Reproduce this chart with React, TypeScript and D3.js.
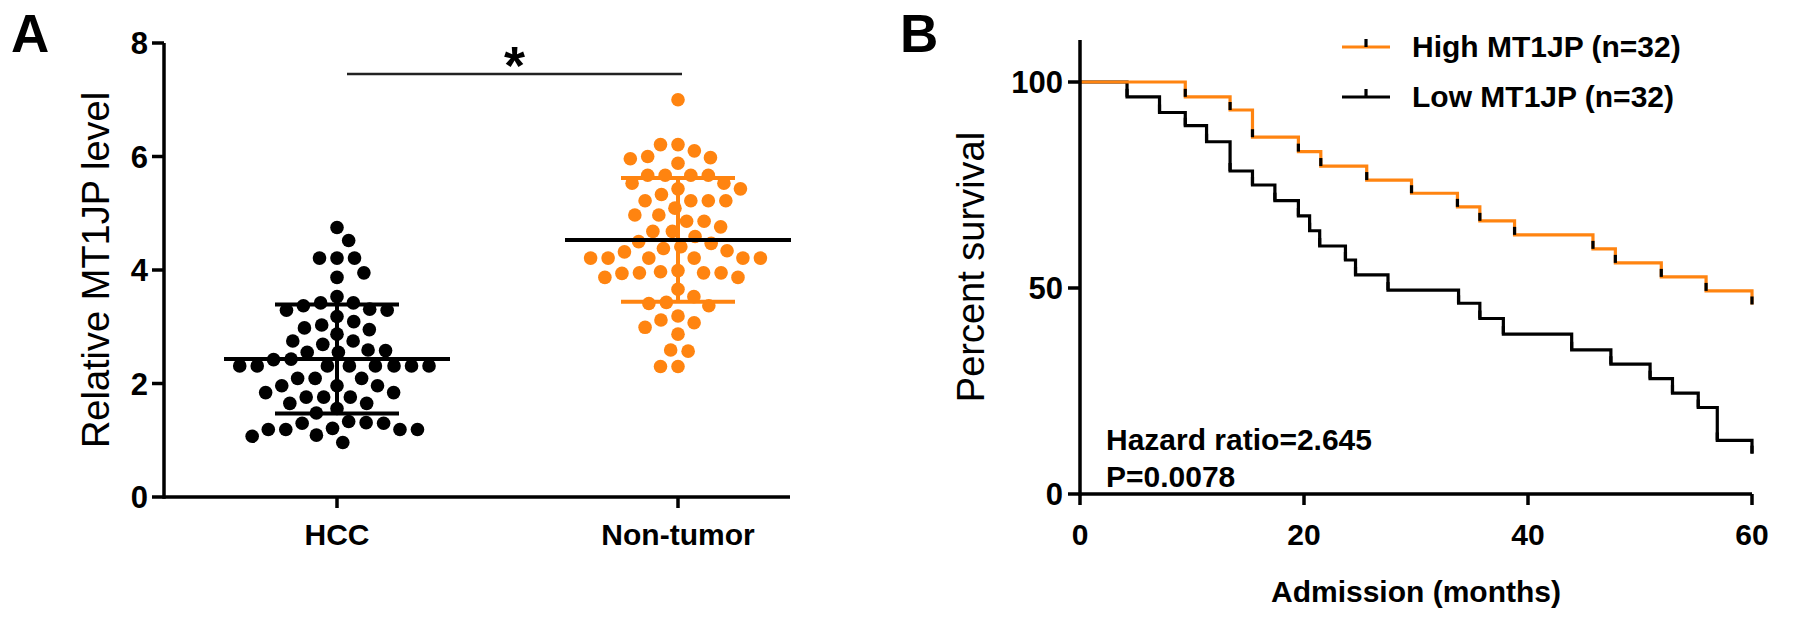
import React from "react";
import * as d3 from "d3";

// ---------- Panel A data ----------
const categories = ["HCC", "Non-tumor"];
const hccValues = [
  4.75, 4.52, 4.21, 4.21, 4.21, 3.87, 3.95, 3.53, 3.42, 3.37, 3.29, 3.29, 3.31, 3.42,
  3.09, 2.98, 2.87, 2.95, 3.03, 3.18, 2.75, 2.75, 2.58, 2.55, 2.55, 2.59, 2.69, 2.43, 2.42,
  2.31, 2.31, 2.31, 2.31, 2.31, 2.31, 2.31, 2.31, 2.09, 2.09, 2.09, 1.96, 1.96, 1.96,
  1.84, 1.84, 1.76, 1.76, 1.76, 1.65, 1.56, 1.65, 1.48,
  1.31, 1.30, 1.19, 1.19, 1.09, 0.96, 1.07, 1.19, 1.21, 1.19, 1.30, 1.33,
];
const nonTumorValues = [
  7.0, 6.21, 6.1, 6.21, 6.0, 5.96, 5.88, 5.98, 5.67, 5.67, 5.67, 5.67, 5.53, 5.53,
  5.43, 5.43, 5.33, 5.22, 5.22, 5.22, 5.22, 5.09, 4.97, 4.97, 4.86, 4.86, 4.76, 4.68,
  4.68, 4.59, 4.47, 4.5, 4.38, 4.34, 4.32, 4.41, 4.21, 4.21, 4.21, 4.21, 4.21, 4.21,
  3.99, 3.97, 3.95, 3.87, 3.87, 3.94, 3.95, 3.95, 3.66, 3.53, 3.41, 3.37, 3.43,
  3.12, 3.19, 2.99, 3.07, 2.87, 2.57, 2.59, 2.3, 2.3,
];
const groupMeans = [2.43, 4.53];
const groupSDs = [0.96, 1.09];
const yTicksA = [0, 2, 4, 6, 8];

// ---------- Panel B data ----------
const highTimes = [0, 9.4, 13.4, 15.4, 19.5, 21.5, 25.6, 29.6, 33.7, 35.7, 38.8, 45.8, 47.8, 51.9, 55.9, 60];
const highSurv = [100, 96.4, 93.2, 86.6, 83.1, 79.6, 76.2, 73.0, 69.7, 66.3, 62.9, 59.5, 56.1, 52.7, 49.3, 46.0];
const lowTimes = [0, 4.2, 7.1, 9.4, 11.3, 13.4, 15.4, 17.4, 19.5, 20.5, 21.4, 23.7, 24.6, 27.5, 33.8, 35.7, 37.8, 43.9, 47.4, 50.9, 52.9, 55.2, 56.9, 60];
const lowSurv = [100, 96.4, 92.6, 89.4, 85.5, 78.4, 75.0, 71.2, 67.5, 63.9, 60.2, 56.8, 53.2, 49.5, 46.3, 42.6, 38.8, 35.0, 31.5, 28.0, 24.5, 21.0, 13.0, 9.8];
const seriesNames = ["High MT1JP (n=32)", "Low MT1JP (n=32)"];
const xTicksB = [0, 20, 40, 60];
const yTicksB = [0, 50, 100];

const ORANGE = "#FF8410";
const FONT = "'Liberation Sans', Arial, Helvetica, sans-serif";

function beeswarm(values: number[], y: (v: number) => number, d: number): number[] {
  // place points from the highest value downwards, each as close to the centre as possible
  const idx = values.map((_, i) => i).sort((a, b) => values[b] - values[a]);
  const placed: { x: number; y: number }[] = [];
  const xs = new Array(values.length).fill(0);
  let flip = 1;
  for (const i of idx) {
    const yy = y(values[i]);
    const cands: number[] = [0];
    for (const p of placed) {
      const dy = Math.abs(p.y - yy);
      if (dy < d) {
        const dx = Math.sqrt(d * d - dy * dy);
        cands.push(p.x + dx, p.x - dx);
      }
    }
    cands.sort((a, b) => Math.abs(a) - Math.abs(b) || (a - b) * flip);
    for (const c of cands) {
      if (placed.every((p) => (p.x - c) ** 2 + (p.y - yy) ** 2 >= d * d - 0.01)) {
        xs[i] = c;
        placed.push({ x: c, y: yy });
        break;
      }
    }
    flip = -flip;
  }
  return xs;
}

export default function App() {
  // Panel A scales
  const yA = d3.scaleLinear().domain([0, 8]).range([497, 43]);
  const xA = d3.scalePoint<string>().domain(categories).range([337, 678]);
  const axisAX = 164;
  const axisAEnd = 790;
  const groups = [hccValues, nonTumorValues];
  const dotR = 6.8;

  // Panel B scales
  const xB = d3.scaleLinear().domain([0, 60]).range([1080, 1752]);
  const yB = d3.scaleLinear().domain([0, 100]).range([494, 82]);
  const lineGen = d3
    .line<[number, number]>()
    .x((p) => xB(p[0]))
    .y((p) => yB(p[1]))
    .curve(d3.curveStepAfter);
  const highPts = highTimes.map((t, i) => [t, highSurv[i]] as [number, number]);
  const lowPts = lowTimes.map((t, i) => [t, lowSurv[i]] as [number, number]);

  const tickW = 3.5;

  return (
    <svg
      width={1795}
      height={618}
      style={{ position: "absolute", left: 0, top: 0, background: "#fff" }}
      fontFamily={FONT}
    >
      <rect x={0} y={0} width={1795} height={618} fill="#fff" />
      {/* Panel labels */}
      <text x={11} y={52} fontSize={53} fontWeight="bold">A</text>
      <text x={900} y={52} fontSize={53} fontWeight="bold">B</text>

      {/* ===== Panel A ===== */}
      <g>
        {groups.map((vals, gi) => {
          const offs = beeswarm(vals, yA, 17.5);
          const cx = xA(categories[gi])!;
          return (
            <g key={gi} fill={gi === 0 ? "#000" : ORANGE}>
              {vals.map((v, i) => (
                <circle key={i} cx={cx + offs[i]} cy={yA(v)} r={dotR} />
              ))}
            </g>
          );
        })}
        {categories.map((c, gi) => {
          const cx = xA(c)!;
          const m = groupMeans[gi];
          const s = groupSDs[gi];
          const col = gi === 0 ? "#000" : ORANGE;
          const capHalf = gi === 0 ? 62 : 57;
          return (
            <g key={c} strokeWidth={4}>
              <line x1={cx} x2={cx} y1={yA(m + s)} y2={yA(m - s)} stroke={col} />
              <line x1={cx - capHalf} x2={cx + capHalf} y1={yA(m + s)} y2={yA(m + s)} stroke={col} />
              <line x1={cx - capHalf} x2={cx + capHalf} y1={yA(m - s)} y2={yA(m - s)} stroke={col} />
              <line x1={cx - 113} x2={cx + 113} y1={yA(m)} y2={yA(m)} stroke="#000" />
            </g>
          );
        })}
        <line x1={axisAX} x2={axisAX} y1={yA(8)} y2={yA(0) + tickW / 2} stroke="#000" strokeWidth={tickW} />
        <line x1={axisAX} x2={axisAEnd} y1={yA(0)} y2={yA(0)} stroke="#000" strokeWidth={tickW} />
        {yTicksA.map((t) => (
          <g key={t}>
            <line x1={axisAX - 12} x2={axisAX} y1={yA(t)} y2={yA(t)} stroke="#000" strokeWidth={tickW} />
            <text x={axisAX - 16} y={yA(t)} dy="0.36em" textAnchor="end" fontSize={31} fontWeight="bold">
              {t}
            </text>
          </g>
        ))}
        {categories.map((c) => (
          <g key={c}>
            <line x1={xA(c)!} x2={xA(c)!} y1={yA(0)} y2={yA(0) + 11} stroke="#000" strokeWidth={tickW} />
            <text x={xA(c)!} y={545} textAnchor="middle" fontSize={30} fontWeight="bold">
              {c}
            </text>
          </g>
        ))}
        <text
          transform={`translate(109, ${(yA(0) + yA(8)) / 2}) rotate(-90)`}
          textAnchor="middle"
          fontSize={38}
        >
          Relative MT1JP level
        </text>
        <line x1={347} x2={682} y1={74} y2={74} stroke="#222" strokeWidth={2.5} />
        <text x={(347 + 682) / 2} y={84} textAnchor="middle" fontSize={54} fontWeight="bold">*</text>
      </g>

      {/* ===== Panel B ===== */}
      <g>
        <path d={lineGen(lowPts) || ""} fill="none" stroke="#000" strokeWidth={3.2} />
        <path d={lineGen(highPts) || ""} fill="none" stroke={ORANGE} strokeWidth={3.2} />
        {highPts.slice(1).map((p, i) => (
          <line key={"h" + i} x1={xB(p[0])} x2={xB(p[0])} y1={yB(p[1])} y2={yB(p[1]) - 8} stroke="#000" strokeWidth={3.2} />
        ))}
        {lowPts.slice(1).map((p, i) => (
          <line key={"l" + i} x1={xB(p[0])} x2={xB(p[0])} y1={yB(p[1])} y2={yB(p[1]) - 8} stroke="#000" strokeWidth={3.2} />
        ))}
        <line x1={xB(0)} x2={xB(0)} y1={40} y2={yB(0) + tickW / 2} stroke="#000" strokeWidth={tickW} />
        <line x1={xB(0)} x2={xB(60)} y1={yB(0)} y2={yB(0)} stroke="#000" strokeWidth={tickW} />
        {yTicksB.map((t) => (
          <g key={t}>
            <line x1={xB(0) - 12} x2={xB(0)} y1={yB(t)} y2={yB(t)} stroke="#000" strokeWidth={tickW} />
            <text x={xB(0) - 17} y={yB(t)} dy="0.36em" textAnchor="end" fontSize={31} fontWeight="bold">
              {t}
            </text>
          </g>
        ))}
        {xTicksB.map((t) => (
          <g key={t}>
            <line x1={xB(t)} x2={xB(t)} y1={yB(0)} y2={yB(0) + 11} stroke="#000" strokeWidth={tickW} />
            <text x={xB(t)} y={545} textAnchor="middle" fontSize={30} fontWeight="bold">
              {t}
            </text>
          </g>
        ))}
        <text
          transform={`translate(984, ${(yB(0) + 40) / 2}) rotate(-90)`}
          textAnchor="middle"
          fontSize={38}
        >
          Percent survival
        </text>
        <text x={(xB(0) + xB(60)) / 2} y={602} textAnchor="middle" fontSize={30} fontWeight="bold">
          Admission (months)
        </text>
        <text x={1106} y={450} fontSize={30} fontWeight="bold">Hazard ratio=2.645</text>
        <text x={1106} y={487} fontSize={30} fontWeight="bold">P=0.0078</text>
        {seriesNames.map((n, i) => {
          const yy = i === 0 ? 47 : 97;
          const col = i === 0 ? ORANGE : "#000";
          return (
            <g key={n}>
              <line x1={1342} x2={1390} y1={yy} y2={yy} stroke={col} strokeWidth={3.2} />
              <line x1={1366} x2={1366} y1={yy} y2={yy - 8} stroke="#000" strokeWidth={3.2} />
              <text x={1412} y={yy + 10} fontSize={30} fontWeight="bold">{n}</text>
            </g>
          );
        })}
      </g>
    </svg>
  );
}
